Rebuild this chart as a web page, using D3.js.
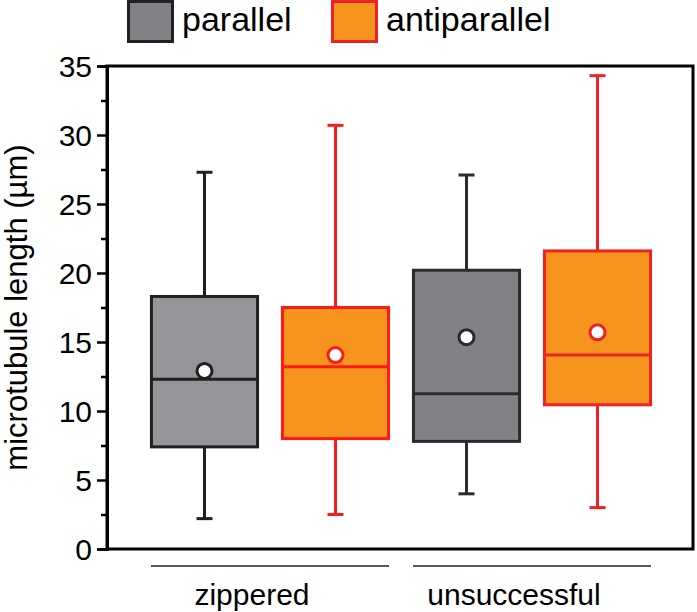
<!DOCTYPE html>
<html>
<head>
<meta charset="utf-8">
<script src="https://cdn.jsdelivr.net/npm/d3@7"></script>
<style>
  html, body { margin: 0; padding: 0; background: #fff; }
  svg text { font-family: "Liberation Sans", Arial, Helvetica, sans-serif; fill: #000; }
</style>
</head>
<body>
<svg id="chart" width="697" height="612"></svg>
<script>
// ---- data ----
const categories = ["zippered", "unsuccessful"];
const seriesNames = ["parallel", "antiparallel"];
// per category: [parallel, antiparallel]
const whiskerMax = [[27.3, 30.7], [27.1, 34.3]];
const q3Values   = [[18.3, 17.5], [20.2, 21.6]];
const medians    = [[12.3, 13.2], [11.25, 14.05]];
const q1Values   = [[7.4, 8.0],  [7.8, 10.45]];
const whiskerMin = [[2.2, 2.5],  [4.0, 3.0]];
const means      = [[12.9, 14.05], [15.35, 15.7]];
const yTicks = [0, 5, 10, 15, 20, 25, 30, 35];
const yMinorTicks = [2.5, 7.5, 12.5, 17.5, 22.5, 27.5, 32.5];
const yTitle = "microtubule length (µm)";

// ---- styles ----
const fills = { parallel: ["#939598", "#808285"], antiparallel: ["#F7941D", "#F7941D"] };
const strokes = { parallel: ["#231F20", "#2b2b2b"], antiparallel: ["#FF1A1A", "#EC2227"] };

const svg = d3.select("#chart");
const plot = { left: 107, right: 693, top: 66, bottom: 549 };

const y = d3.scaleLinear().domain([0, 35]).range([plot.bottom, plot.top]);
const x0 = d3.scaleBand().domain(categories).range([139, 663]).paddingInner(0);
const x1 = d3.scaleBand().domain(seriesNames).range([0, x0.bandwidth()]);
const boxW = x1.bandwidth() * 0.81;
const capW = 16;

// frame
svg.append("rect")
  .attr("x", plot.left).attr("y", plot.top)
  .attr("width", plot.right - plot.left).attr("height", plot.bottom - plot.top)
  .attr("fill", "none").attr("stroke", "#000").attr("stroke-width", 3);

// y axis major
const yAxis = svg.append("g")
  .attr("transform", `translate(${plot.left},0)`)
  .call(d3.axisLeft(y).tickValues(yTicks).tickSize(10).tickPadding(5).tickFormat(d3.format("d")));
yAxis.select(".domain").attr("stroke-width", 3);
yAxis.selectAll(".tick line").attr("stroke-width", 2.5);
yAxis.selectAll(".tick text").style("font-size", "30px").attr("dy", "0.36em");

// y axis minor
const yMinor = svg.append("g")
  .attr("transform", `translate(${plot.left},0)`)
  .call(d3.axisLeft(y).tickValues(yMinorTicks).tickSize(6).tickFormat(""));
yMinor.select(".domain").remove();
yMinor.selectAll(".tick line").attr("stroke-width", 2.5);

// y title
svg.append("text")
  .attr("transform", `translate(27,${(plot.top + plot.bottom) / 2}) rotate(-90)`)
  .attr("text-anchor", "middle")
  .style("font-size", "31px")
  .text(yTitle);

// boxes
categories.forEach((cat, ci) => {
  seriesNames.forEach((s, si) => {
    const cx = x0(cat) + x1(s) + x1.bandwidth() / 2;
    const stroke = strokes[s][ci];
    const fill = fills[s][ci];
    const g = svg.append("g");
    // whiskers
    g.append("line").attr("x1", cx).attr("x2", cx)
      .attr("y1", y(whiskerMax[ci][si])).attr("y2", y(q3Values[ci][si]))
      .attr("stroke", stroke).attr("stroke-width", 3);
    g.append("line").attr("x1", cx).attr("x2", cx)
      .attr("y1", y(q1Values[ci][si])).attr("y2", y(whiskerMin[ci][si]))
      .attr("stroke", stroke).attr("stroke-width", 3);
    g.append("line").attr("x1", cx - capW / 2).attr("x2", cx + capW / 2)
      .attr("y1", y(whiskerMax[ci][si])).attr("y2", y(whiskerMax[ci][si]))
      .attr("stroke", stroke).attr("stroke-width", 3);
    g.append("line").attr("x1", cx - capW / 2).attr("x2", cx + capW / 2)
      .attr("y1", y(whiskerMin[ci][si])).attr("y2", y(whiskerMin[ci][si]))
      .attr("stroke", stroke).attr("stroke-width", 3);
    // box
    g.append("rect")
      .attr("x", cx - boxW / 2).attr("width", boxW)
      .attr("y", y(q3Values[ci][si])).attr("height", y(q1Values[ci][si]) - y(q3Values[ci][si]))
      .attr("fill", fill).attr("stroke", stroke).attr("stroke-width", 3);
    // median
    g.append("line").attr("x1", cx - boxW / 2).attr("x2", cx + boxW / 2)
      .attr("y1", y(medians[ci][si])).attr("y2", y(medians[ci][si]))
      .attr("stroke", stroke).attr("stroke-width", 3);
    // mean
    g.append("circle").attr("cx", cx).attr("cy", y(means[ci][si])).attr("r", 7.5)
      .attr("fill", "#fff").attr("stroke", stroke).attr("stroke-width", 3);
  });
});

// group underline + labels
categories.forEach(cat => {
  const gc = x0(cat) + x0.bandwidth() / 2;
  svg.append("line")
    .attr("x1", gc - 119).attr("x2", gc + 119)
    .attr("y1", 566).attr("y2", 566)
    .attr("stroke", "#222").attr("stroke-width", 1.5);
  svg.append("text")
    .attr("x", gc - 18).attr("y", 605)
    .attr("text-anchor", "middle")
    .style("font-size", "30px")
    .text(cat);
});

// legend
const legendX = [127, 331];
seriesNames.forEach((s, i) => {
  svg.append("rect")
    .attr("x", legendX[i] + 1.5).attr("y", 1.5).attr("width", 44).attr("height", 40)
    .attr("fill", s === "parallel" ? "#808285" : "#F7941D")
    .attr("stroke", s === "parallel" ? "#231F20" : "#EC2227").attr("stroke-width", 3);
  svg.append("text")
    .attr("x", legendX[i] + 55).attr("y", 31)
    .style("font-size", "34px")
    .text(s);
});
</script>
</body>
</html>
